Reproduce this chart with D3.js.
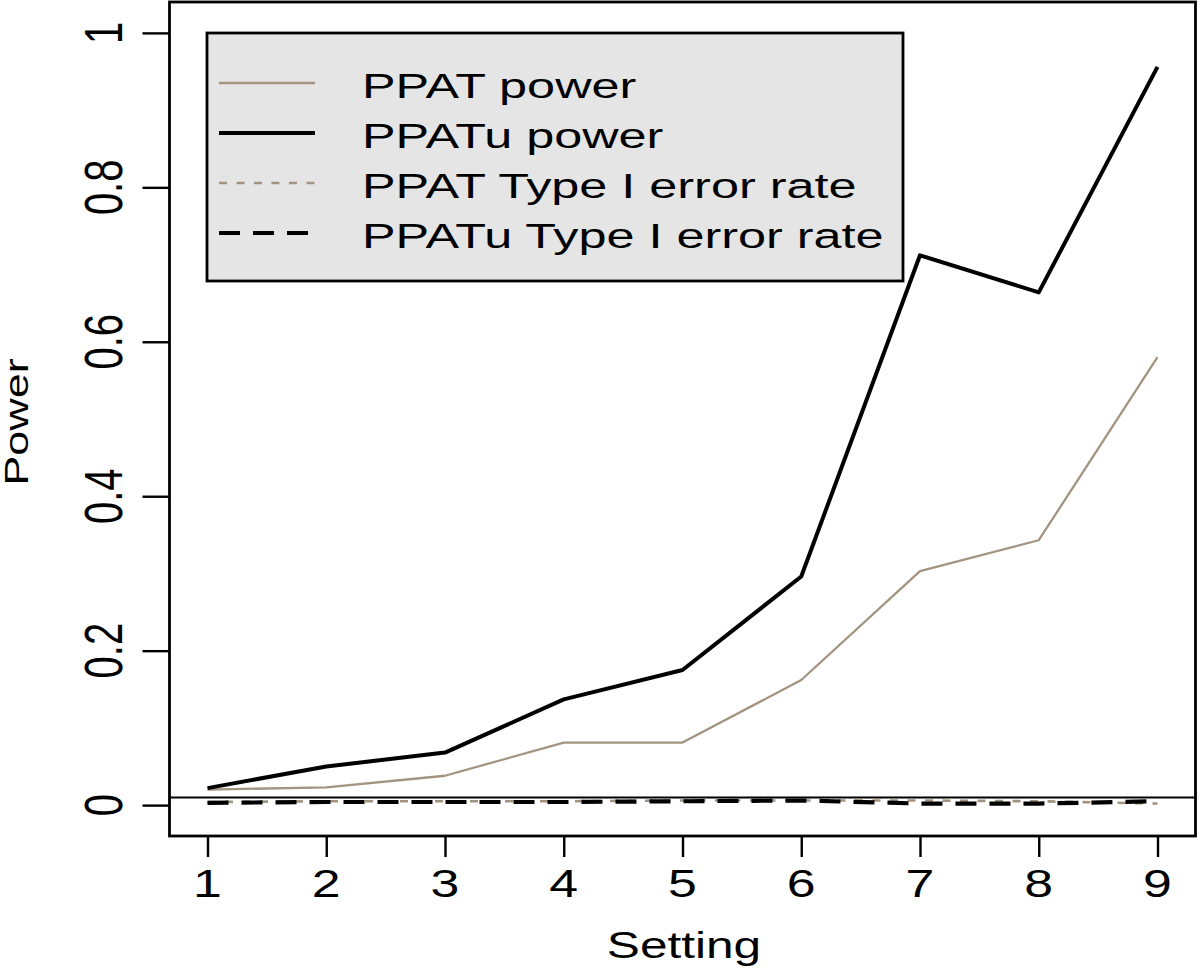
<!DOCTYPE html>
<html>
<head>
<meta charset="utf-8">
<script src="https://cdn.jsdelivr.net/npm/d3@7"></script>
<style>
  html, body { margin: 0; padding: 0; background: #ffffff; }
  svg { display: block; }
  text { font-family: "Liberation Sans", Arial, Helvetica, sans-serif; fill: #000; }
</style>
</head>
<body>
<svg id="chart" width="1200" height="973"></svg>
<script>
// ---- data ----
const settings = [1, 2, 3, 4, 5, 6, 7, 8, 9];
const ppatPower  = [0.020, 0.023, 0.038, 0.081, 0.081, 0.162, 0.303, 0.343, 0.580];
const ppatuPower = [0.022, 0.050, 0.068, 0.137, 0.175, 0.296, 0.712, 0.664, 0.956];
const ppatType1  = [0.004, 0.005, 0.005, 0.005, 0.006, 0.006, 0.006, 0.005, 0.002];
const ppatuType1 = [0.003, 0.004, 0.004, 0.004, 0.005, 0.006, 0.002, 0.002, 0.005];
const refLevel = 0.01;
const xTicks = [1, 2, 3, 4, 5, 6, 7, 8, 9];
const yTicks = [0, 0.2, 0.4, 0.6, 0.8, 1];
const yTickLabels = ["0", "0.2", "0.4", "0.6", "0.8", "1"];
const legendLabels = ["PPAT power", "PPATu power", "PPAT Type I error rate", "PPATu Type I error rate"];
const xTitle = "Setting";
const yTitle = "Power";

// ---- layout ----
const box = { left: 169.5, right: 1195.5, top: 2, bottom: 836 };
const tan = "#a29480";

const svg = d3.select("#chart");
const x = d3.scaleLinear().domain([0.68, 9.32]).range([box.left, box.right]);
const y = d3.scaleLinear().domain([-0.04, 1.04]).range([box.bottom, box.top]);

// axes (ticks only)
const xAxis = svg.append("g")
  .attr("transform", `translate(0,${box.bottom})`)
  .call(d3.axisBottom(x).tickValues(xTicks).tickSize(21).tickSizeOuter(0).tickFormat(""));
xAxis.select(".domain").remove();
xAxis.selectAll(".tick line").attr("stroke", "#000").attr("stroke-width", 2.4);

const yAxis = svg.append("g")
  .attr("transform", `translate(${box.left},0)`)
  .call(d3.axisLeft(y).tickValues(yTicks).tickSize(27).tickSizeOuter(0).tickFormat(""));
yAxis.select(".domain").remove();
yAxis.selectAll(".tick line").attr("stroke", "#000").attr("stroke-width", 2.4);

// tick labels
svg.append("g").selectAll("text").data(xTicks).join("text")
  .attr("transform", d => `translate(${x(d)},897) scale(1.33,1)`)
  .attr("text-anchor", "middle")
  .style("font-size", "39px")
  .text(d => d);

svg.append("g").selectAll("text").data(yTicks).join("text")
  .attr("transform", (d) => `translate(122,${y(d)}) scale(1.36,1) rotate(-90)`)
  .attr("text-anchor", "middle")
  .style("font-size", "40px")
  .text((d, i) => yTickLabels[i]);

// axis titles
svg.append("text")
  .attr("transform", `translate(684,958) scale(1.34,1)`)
  .attr("text-anchor", "middle")
  .style("font-size", "37px")
  .text(xTitle);

svg.append("text")
  .attr("transform", `translate(28,422) scale(0.72,1) rotate(-90)`)
  .attr("text-anchor", "middle")
  .style("font-size", "45px")
  .text(yTitle);

// reference line
svg.append("line")
  .attr("x1", box.left).attr("x2", box.right)
  .attr("y1", y(refLevel)).attr("y2", y(refLevel))
  .attr("stroke", "#000").attr("stroke-width", 2);

// series
const line = d3.line().x((d, i) => x(settings[i])).y(d => y(d));
const series = [
  { values: ppatType1,  color: tan,    width: 2.6, dash: "8,9.5" },
  { values: ppatuType1, color: "#000", width: 4.2, dash: "21,13" },
  { values: ppatPower,  color: tan,    width: 2.3, dash: null },
  { values: ppatuPower, color: "#000", width: 4, dash: null }
];
svg.append("g").selectAll("path").data(series).join("path")
  .attr("d", d => line(d.values))
  .attr("fill", "none")
  .attr("stroke", d => d.color)
  .attr("stroke-width", d => d.width)
  .attr("stroke-dasharray", d => d.dash)
  .attr("stroke-linejoin", "round");

// plot box
svg.append("rect")
  .attr("x", box.left).attr("y", box.top)
  .attr("width", box.right - box.left).attr("height", box.bottom - box.top)
  .attr("fill", "none").attr("stroke", "#000").attr("stroke-width", 2.8);

// legend
const leg = svg.append("g");
leg.append("rect")
  .attr("x", 207).attr("y", 33).attr("width", 696).attr("height", 248)
  .attr("fill", "#e5e5e5").attr("stroke", "#000").attr("stroke-width", 2.8);
const legendStyles = [
  { color: tan, width: 2.6, dash: null },
  { color: "#000", width: 4, dash: null },
  { color: tan, width: 2.6, dash: "8,9.5" },
  { color: "#000", width: 4, dash: "21,13" }
];
const legRows = leg.selectAll("g.row").data(legendLabels).join("g").attr("class", "row");
legRows.append("line")
  .attr("x1", 219).attr("x2", 315)
  .attr("y1", (d, i) => 83 + i * 50).attr("y2", (d, i) => 83 + i * 50)
  .attr("stroke", (d, i) => legendStyles[i].color)
  .attr("stroke-width", (d, i) => legendStyles[i].width)
  .attr("stroke-dasharray", (d, i) => legendStyles[i].dash);
legRows.append("text")
  .attr("transform", (d, i) => `translate(362,${97.5 + i * 50}) scale(1.46,1)`)
  .style("font-size", "34.5px")
  .text(d => d);
</script>
</body>
</html>
